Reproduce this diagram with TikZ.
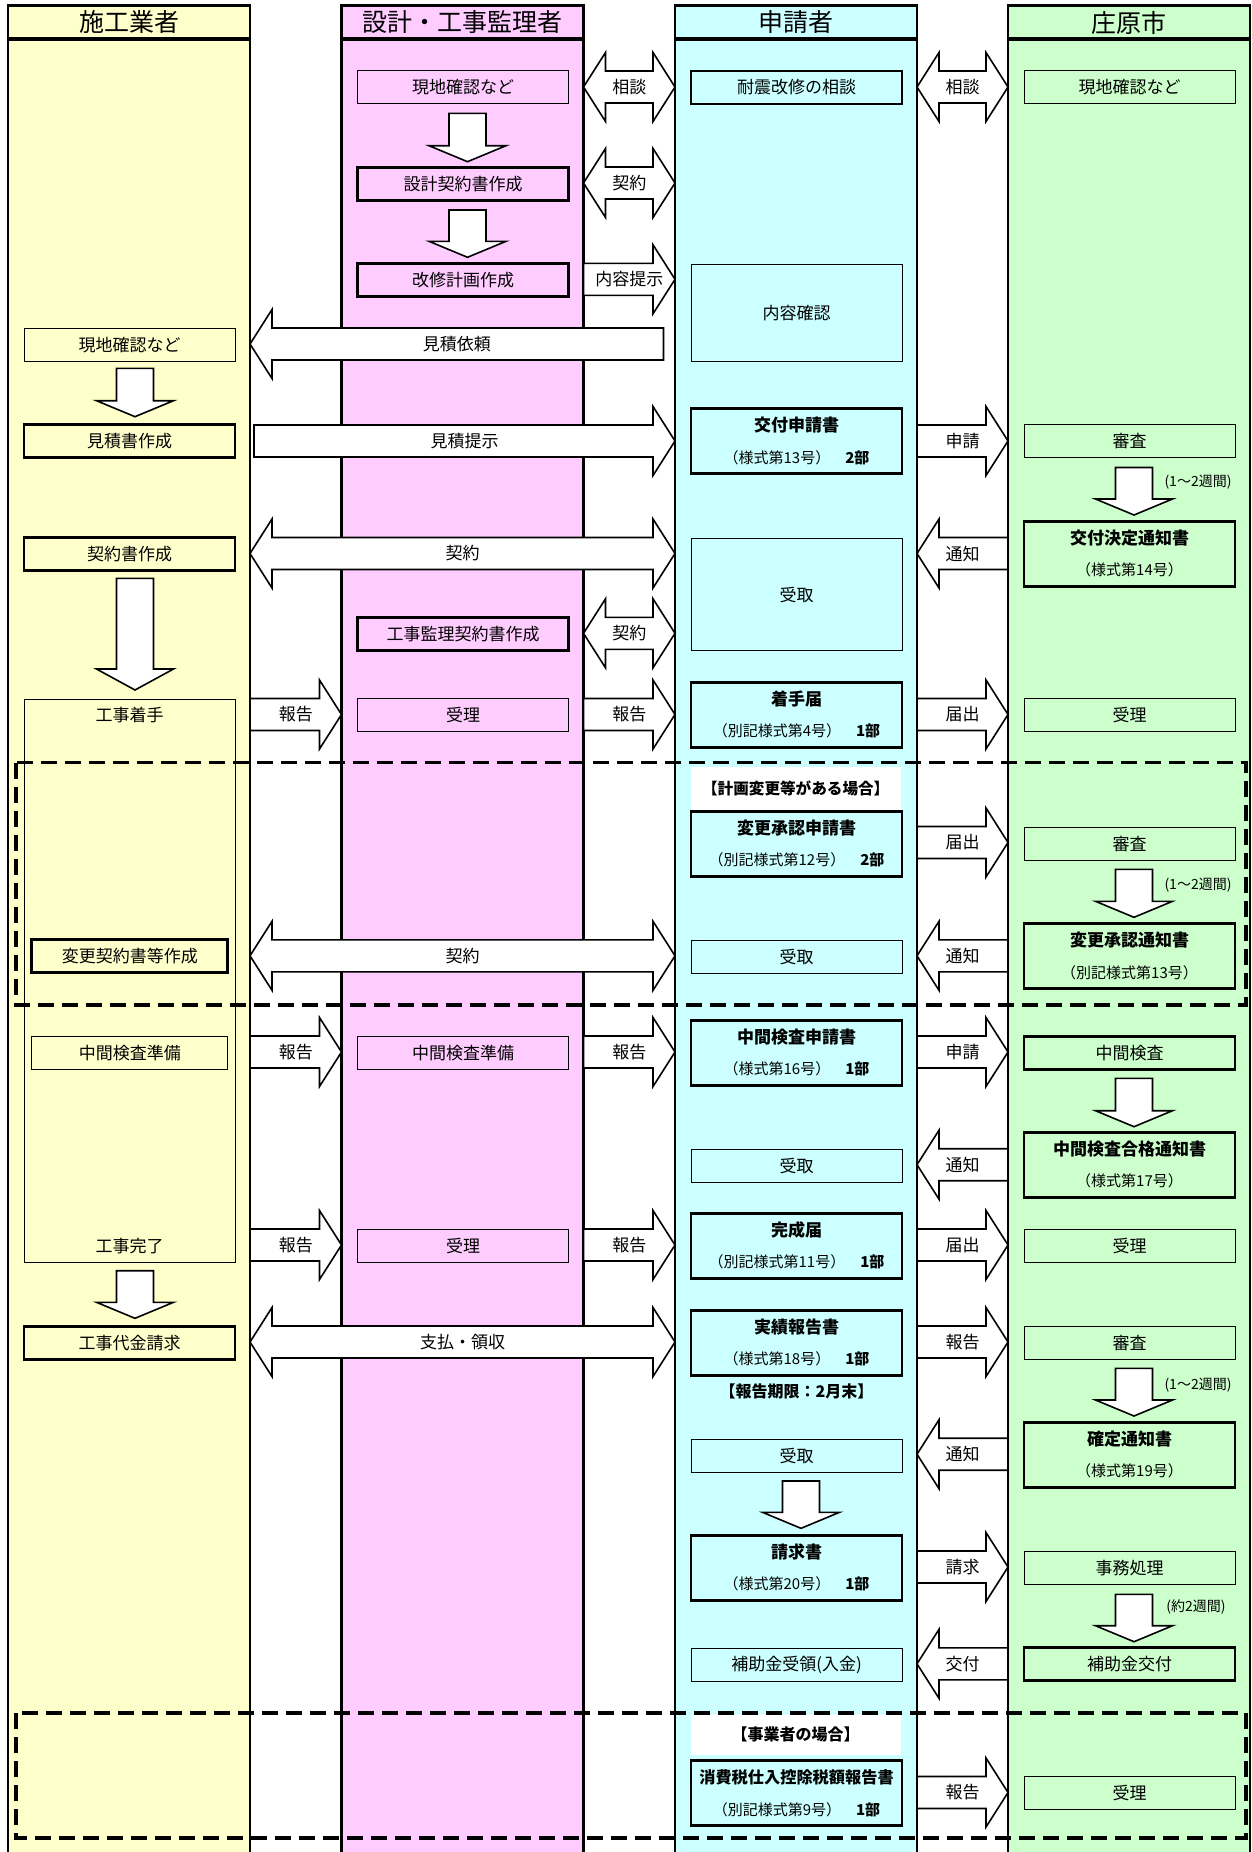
\documentclass[tikz,border=0pt]{standalone}
\usepackage{fontspec}
\setmainfont{Noto Sans CJK JP}
\usetikzlibrary{calc}
\definecolor{cyel}{HTML}{FFFFCC}
\definecolor{cpink}{HTML}{FFCCFF}
\definecolor{ccyan}{HTML}{CCFFFF}
\definecolor{cgreen}{HTML}{CCFFCC}
\newcommand{\fnorm}{\fontsize{8.5}{10}\selectfont}
\newcommand{\fsmall}{\fontsize{7.5}{9}\selectfont}
\tikzset{
  colline/.style={line width=1.2pt},
  tb/.style={draw, line width=0.5pt, minimum width=105.5pt, minimum height=16.5pt, inner sep=0pt, font=\fnorm},
  kb/.style={tb, line width=1.4pt},
  arr/.style={draw, fill=white, line width=0.8pt, line join=miter},
  alab/.style={inner sep=0pt, font=\fnorm},
  txt/.style={inner sep=0pt, font=\fnorm},
  wk/.style={inner sep=0pt, font=\fontsize{7}{8}\selectfont},
  hd/.style={inner sep=0pt, font=\fontsize{12.5}{14}\selectfont},
  dsh/.style={draw, line width=1.7pt, dash pattern=on 8pt off 4pt},
}
% right arrow: name, x1 (tail), x2 (tip), yc, label
\newcommand{\myRA}[5]{%
  \draw[arr] (#2,#4-16) -- (#3-22,#4-16) -- (#3-22,#4-34.5) -- (#3,#4) -- (#3-22,#4+34.5) -- (#3-22,#4+16) -- (#2,#4+16) -- cycle;
  \node[alab] (#1) at ({(#2+#3)/2},#4) {#5};}
% left arrow: name, x1 (tip), x2 (tail), yc, label
\newcommand{\myLA}[5]{%
  \draw[arr] (#3,#4-16) -- (#2+22,#4-16) -- (#2+22,#4-34.5) -- (#2,#4) -- (#2+22,#4+34.5) -- (#2+22,#4+16) -- (#3,#4+16) -- cycle;
  \node[alab] (#1) at ({(#2+#3)/2},#4) {#5};}
% double arrow
\newcommand{\myDA}[5]{%
  \draw[arr] (#2,#4) -- (#2+22,#4-34.5) -- (#2+22,#4-16) -- (#3-22,#4-16) -- (#3-22,#4-34.5) -- (#3,#4) -- (#3-22,#4+34.5) -- (#3-22,#4+16) -- (#2+22,#4+16) -- (#2+22,#4+34.5) -- cycle;
  \node[alab] (#1) at ({(#2+#3)/2},#4) {#5};}
% down arrow: name, cx, y1, y2, head length
\newcommand{\myVA}[5]{%
  \draw[arr] (#2-18.5,#3) -- (#2+18.5,#3) -- (#2+18.5,#4-#5) -- (#2+38.5,#4-#5) -- (#2,#4) -- (#2-38.5,#4-#5) -- (#2-18.5,#4-#5) -- cycle;
  \coordinate (#1) at (#2,#4);}
% two line box: name, x, y, line1, line2
\newcommand{\twobox}[5]{%
  \node[kb, minimum height=32.5pt] (#1) at (#2,#3) {};
  \node[txt, font=\fnorm\bfseries] (#1a) at (#2,#3-16) {#4};
  \node[txt, font=\fsmall] (#1b) at (#2,#3+16) {#5};}
\begin{document}
\begin{tikzpicture}[x=0.5pt,y=-0.5pt]
\useasboundingbox (0,0) rectangle (1252,1852);
\fill[white] (0,0) rectangle (1252,1852);
% columns
\fill[cyel] (8,5.5) rectangle (250,1870);
\fill[cpink] (341.5,5.5) rectangle (583.5,1870);
\fill[ccyan] (675,5.5) rectangle (917,1870);
\fill[cgreen] (1008,5.5) rectangle (1250,1870);
\foreach \l/\r in {8/250,341.5/583.5,675/917,1008/1250}{
  \draw[colline] (\l,1870) -- (\l,5.5) -- (\r,5.5) -- (\r,1870);
  \draw[line width=2pt] (\l,39) -- (\r,39);
}
\node[hd] (h1) at (129,22.5) {施工業者};
\node[hd] (h2) at (462.5,22.5) {設計・工事監理者};
\node[hd] (h3) at (796,22.5) {申請者};
\node[hd] (h4) at (1129,22.5) {庄原市};
% Row A
\node[tb] (a2) at (463,87) {現地確認など};
\myDA{aa23}{583.5}{675}{87}{相談}
\node[kb] (a3) at (796.5,87.5) {耐震改修の相談};
\myDA{aa34}{917}{1008}{87}{相談}
\node[tb] (a4) at (1129.5,87) {現地確認など};
\myVA{va1}{467.5}{113.3}{161.7}{16}
% Row B
\node[kb] (b2) at (463,184) {設計契約書作成};
\myDA{ba23}{583.5}{675}{183}{契約}
\myVA{va2}{467.5}{210}{257.3}{16}
% Row C
\node[kb] (c2) at (463,280) {改修計画作成};
\myRA{ca23}{583.5}{675}{279.3}{内容提示}
\node[tb, minimum height=48.35pt] (c3) at (796.5,312.7) {内容確認};
\myLA{mla}{250}{663.5}{344}{見積依頼}
\node[tb] (c1) at (129.5,344.7) {現地確認など};
\myVA{va3}{135}{368.3}{416.7}{16}
% Row D
\node[kb] (d1) at (129.5,441) {見積書作成};
\myRA{da12}{254}{675}{441}{見積提示}
\twobox{d3}{796.5}{441.3}{交付申請書}{（様式第13号）\quad\textbf{2部}}
\myRA{da34}{917}{1008}{441}{申請}
\node[tb] (d4) at (1129.5,441.3) {審査};
\myVA{va4}{1134}{467.5}{515}{16}
\node[wk] (w1) at (1198,482) {(1～2週間)};
% Row E
\twobox{e4}{1129.5}{554.2}{交付決定通知書}{（様式第14号）}
\myLA{ea34}{917}{1008}{553.5}{通知}
\node[kb] (e1) at (129.5,553.7) {契約書作成};
\myDA{ea13}{250}{675}{553.5}{契約}
\node[tb, minimum height=56.2pt] (e3) at (796.5,594.5) {受取};
\myVA{va5}{135}{578.3}{690}{21}
% Row F
\node[kb] (f2) at (463,634.2) {工事監理契約書作成};
\myDA{fa23}{583.5}{675}{633.3}{契約}
% Row G
\node[tb, minimum height=281.5pt] (g1) at (129.5,980.5) {};
\node[txt] (g1a) at (129.5,715) {工事着手};
\node[txt] (g1b) at (129.5,1246.5) {工事完了};
\myRA{ga12}{250}{341.5}{714.5}{報告}
\node[tb] (g2) at (463,715.3) {受理};
\myRA{ga23}{583.5}{675}{714.5}{報告}
\twobox{g3}{796.5}{715}{着手届}{（別記様式第4号）\quad\textbf{1部}}
\myRA{ga34}{917}{1008}{714.5}{届出}
\node[tb] (g4) at (1129.5,715.3) {受理};
% Planned change section
\node[fill=white, minimum width=105pt, minimum height=21.6pt, inner sep=0pt, font=\fontsize{7.8}{9}\selectfont\bfseries] (p0) at (795.7,788.3) {【計画変更等がある場合】};
\twobox{p3}{796.5}{843.7}{変更承認申請書}{（別記様式第12号）\quad\textbf{2部}}
\myRA{pa34}{917}{1008}{842.5}{届出}
\node[tb] (p4) at (1129.5,843.8) {審査};
\myVA{va6}{1134}{869.3}{917.3}{16}
\node[wk] (w2) at (1198,885) {(1～2週間)};
\twobox{q4}{1129.5}{956.3}{変更承認通知書}{（別記様式第13号）}
\myLA{qa34}{917}{1008}{955.8}{通知}
\myDA{qa13}{250}{675}{955.8}{契約}
\node[kb, minimum width=98pt] (q1) at (129.8,956.3) {変更契約書等作成};
\node[tb] (q3) at (796.5,956.7) {受取};
% Row H
\node[tb, minimum width=98pt] (h1b) at (129.8,1053) {中間検査準備};
\myRA{ha12}{250}{341.5}{1052}{報告}
\node[tb] (h2b) at (463,1053) {中間検査準備};
\myRA{ha23}{583.5}{675}{1052}{報告}
\twobox{h3b}{796.5}{1053}{中間検査申請書}{（様式第16号）\quad\textbf{1部}}
\myRA{ha34}{917}{1008}{1052}{申請}
\node[kb] (h4b) at (1129.5,1053) {中間検査};
\myVA{va7}{1134}{1078.3}{1126.7}{16}
% Row I
\twobox{i4}{1129.5}{1165}{中間検査合格通知書}{（様式第17号）}
\myLA{ia34}{917}{1008}{1164.7}{通知}
\node[tb] (i3) at (796.5,1165.8) {受取};
% Row J
\myRA{ja12}{250}{341.5}{1245}{報告}
\node[tb] (j2) at (463,1246) {受理};
\myRA{ja23}{583.5}{675}{1245}{報告}
\twobox{j3}{796.5}{1246}{完成届}{（別記様式第11号）\quad\textbf{1部}}
\myRA{ja34}{917}{1008}{1245}{届出}
\node[tb] (j4) at (1129.5,1246) {受理};
\myVA{va8}{135}{1270.7}{1318.3}{16}
% Row K
\node[kb] (k1) at (129.5,1342.8) {工事代金請求};
\myDA{ka13}{250}{675}{1342}{支払・領収}
\twobox{k3}{796.5}{1343}{実績報告書}{（様式第18号）\quad\textbf{1部}}
\node[txt, font=\fontsize{8}{10}\selectfont\bfseries] (k3c) at (796.5,1391.7) {【報告期限：2月末】};
\myRA{ka34}{917}{1008}{1342}{報告}
\node[tb] (k4) at (1129.5,1343) {審査};
\myVA{va9}{1134}{1368.3}{1416}{16}
\node[wk] (w3) at (1198,1385) {(1～2週間)};
% Row L
\twobox{l4}{1129.5}{1455.2}{確定通知書}{（様式第19号）}
\myLA{la34}{917}{1008}{1454.2}{通知}
\node[tb] (l3) at (796.5,1455.5) {受取};
\myVA{va10}{801}{1481}{1528.3}{16}
% Row M
\twobox{m3}{796.5}{1568}{請求書}{（様式第20号）\quad\textbf{1部}}
\myRA{ma34}{917}{1008}{1567}{請求}
\node[tb] (m4) at (1129.5,1568) {事務処理};
\myVA{va11}{1134}{1594.3}{1641.7}{16}
\node[wk] (w4) at (1196,1607) {(約2週間)};
% Row N
\node[kb] (n4) at (1129.5,1664.3) {補助金交付};
\myLA{na34}{917}{1008}{1663.8}{交付}
\node[tb] (n3) at (796.5,1664.5) {補助金受領(入金)};
% business operator section
\node[fill=white, minimum width=105pt, minimum height=20.5pt, inner sep=0pt, font=\fontsize{8}{9}\selectfont\bfseries] (s0) at (795.7,1734.5) {【事業者の場合】};
\twobox{s3}{796.5}{1793.3}{{\fontsize{8.1}{10}\selectfont 消費税仕入控除税額報告書}}{（別記様式第9号）\quad\textbf{1部}}
\myRA{sa34}{917}{1008}{1792.5}{報告}
\node[tb] (s4) at (1129.5,1793.3) {受理};
% dashed frames
\draw[dsh] (16,762.7) rectangle (1246,1005);
\draw[dsh] (16,1713) rectangle (1246,1838);
\end{tikzpicture}
\end{document}
